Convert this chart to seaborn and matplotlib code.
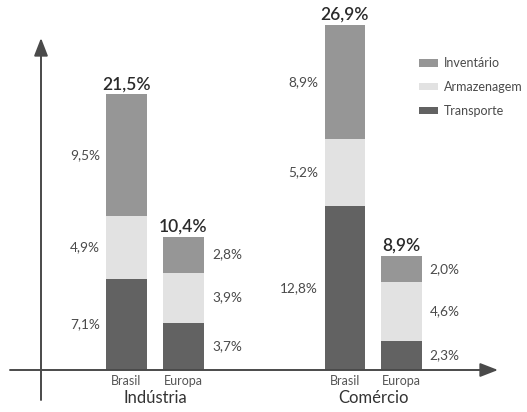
import matplotlib
matplotlib.use("Agg")
import matplotlib.pyplot as plt
import matplotlib.patches as mpatches
import seaborn as sns
import pandas as pd
import numpy as np

# ---- data ----
groups = ["Indústria", "Indústria", "Comércio", "Comércio"]
regions = ["Brasil", "Europa", "Brasil", "Europa"]
xpos = [0.0, 1.0, 3.83, 4.82]
transporte = [7.1, 3.7, 12.8, 2.3]
armazenagem = [4.9, 3.9, 5.2, 4.6]
inventario = [9.5, 2.8, 8.9, 2.0]
totais = [21.5, 10.4, 26.9, 8.9]
series_names = ["Inventário", "Armazenagem", "Transporte"]
colors = {"Inventário": "#969696", "Armazenagem": "#e2e2e2", "Transporte": "#626262"}

def fmt(v):
    return f"{v:.1f}%".replace(".", ",")

sns.set_theme(style="white")
plt.rcParams["font.family"] = ["Lato", "DejaVu Sans"]

W, H = 527, 412
fig = plt.figure(figsize=(W / 100, H / 100), dpi=100)
ax = fig.add_axes([0, 0, 1, 1])

# pixel mapping
ux = 57.0           # px per x unit
x0px = 126.5        # px of x=0
uy = 345 / 26.9     # px per y unit
y0px = 370          # px (from top) of y=0

df = pd.DataFrame({"x": xpos, "trans": transporte, "arm": armazenagem, "inv": inventario})
df["cum2"] = df["trans"] + df["arm"]
df["cum3"] = df["cum2"] + df["inv"]

barw = 41 / ux
for col, name in [("cum3", "Inventário"), ("cum2", "Armazenagem"), ("trans", "Transporte")]:
    sns.barplot(data=df, x="x", y=col, native_scale=True, color=colors[name],
                saturation=1, width=barw, ax=ax, edgecolor="none", linewidth=0)

ax.set_xlim((0 - x0px) / ux, (W - x0px) / ux)
ax.set_ylim(-(H - y0px) / uy, y0px / uy)
ax.axis("off")

def px2x(p):
    return (p - x0px) / ux

def py2y(p):
    return (y0px - p) / uy

# axes arrows
ax.annotate("", xy=(px2x(498), 0), xytext=(px2x(10), 0),
            arrowprops=dict(arrowstyle="-|>,head_length=0.9,head_width=0.35", color="#4a4a4a", lw=1.4,
                            shrinkA=0, shrinkB=0))
ax.annotate("", xy=(px2x(41), py2y(38)), xytext=(px2x(41), py2y(400)),
            arrowprops=dict(arrowstyle="-|>,head_length=0.9,head_width=0.35", color="#4a4a4a", lw=1.4,
                            shrinkA=0, shrinkB=0))

txtc = "#4a4a4a"
seg_fs = 9.8
for i in range(4):
    x = xpos[i]
    mids = [transporte[i] / 2,
            transporte[i] + armazenagem[i] / 2,
            transporte[i] + armazenagem[i] + inventario[i] / 2]
    vals = [transporte[i], armazenagem[i], inventario[i]]
    if regions[i] == "Brasil":
        lx = x - barw / 2 - 6 / ux
        ha = "right"
    else:
        lx = x + barw / 2 + 8 / ux
        ha = "left"
    for m, v in zip(mids, vals):
        ax.text(lx, m, fmt(v), ha=ha, va="center", fontsize=seg_fs, color=txtc)
    ax.text(x, totais[i] + 2 / uy, fmt(totais[i]), ha="center", va="bottom",
            fontsize=12.5, fontweight="semibold", color="#2a2a2a")
    ax.text(x, py2y(375), regions[i], ha="center", va="top", fontsize=9, color="#555555")

ax.text((xpos[0] + xpos[1]) / 2, py2y(390), "Indústria", ha="center", va="top",
        fontsize=12, color="#333333")
ax.text((xpos[2] + xpos[3]) / 2, py2y(390), "Comércio", ha="center", va="top",
        fontsize=12, color="#333333")

handles = [mpatches.Patch(facecolor=colors[n], edgecolor="none") for n in series_names]
ax.legend(handles, series_names, loc="upper left", bbox_to_anchor=(408 / W, 1 - 46 / H),
          bbox_transform=fig.transFigure, frameon=False, fontsize=9,
          handlelength=1.5, handleheight=0.55, handletextpad=0.5, labelspacing=0.95,
          labelcolor=txtc)

fig.savefig("out.png", dpi=100)
